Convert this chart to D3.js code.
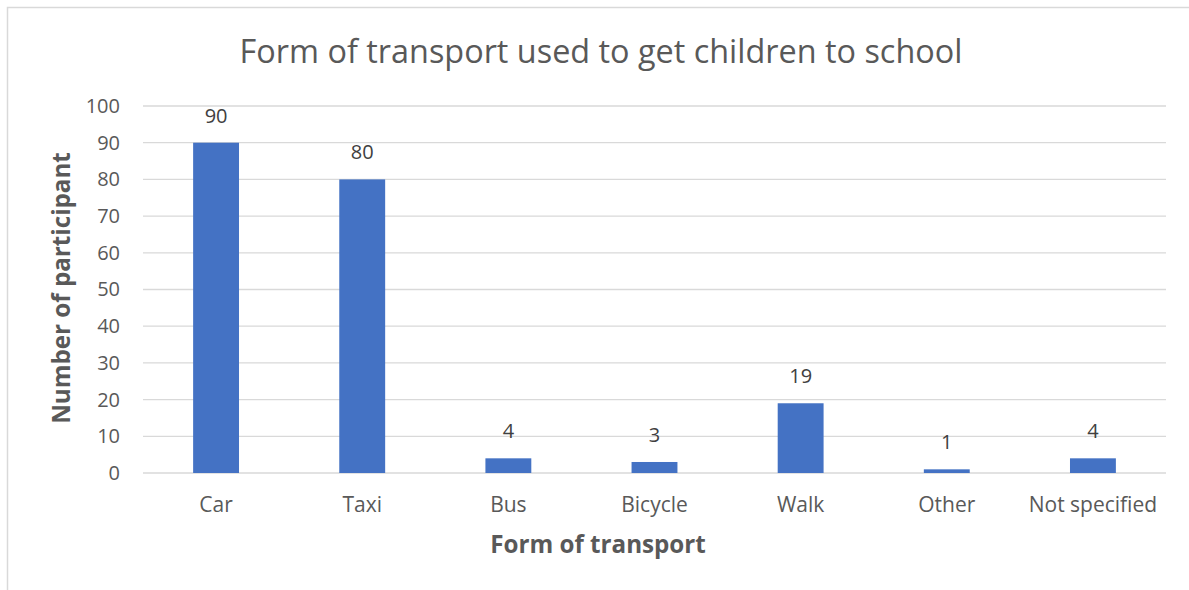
<!DOCTYPE html>
<html><head><meta charset="utf-8">
<script src="https://cdn.jsdelivr.net/npm/d3@7"></script>
<style>
body{margin:0;background:#fff;}
text{font-family:"Open Sans",sans-serif;}
</style></head><body>
<svg id="chart" width="1189" height="590"></svg>
<script>
const categories = ["Car","Taxi","Bus","Bicycle","Walk","Other","Not specified"];
const values = [90,80,4,3,19,1,4];
const yTicks = [0,10,20,30,40,50,60,70,80,90,100];
const title = "Form of transport used to get children to school";
const xTitle = "Form of transport";
const yTitle = "Number of participant";

const svg = d3.select("#chart");
const W = 1189, H = 590;
const m = {left:143, right:23, top:106, bottom:117};
const x = d3.scaleBand().domain(categories).range([m.left, W-m.right]).paddingInner(0.686).paddingOuter(0.343);
const y = d3.scaleLinear().domain([0,100]).range([H-m.bottom, m.top]);

// border
svg.append("path").attr("d",`M7.5,${H} V7.5 H${W}`).attr("fill","none").attr("stroke","#d9d9d9").attr("stroke-width",1.5);

// gridlines
svg.append("g").selectAll("line").data(yTicks).join("line")
  .attr("x1",m.left).attr("x2",W-m.right)
  .attr("y1",d=>y(d)).attr("y2",d=>y(d))
  .attr("stroke","#d9d9d9").attr("stroke-width",1.3);

// y axis
const yAxis = svg.append("g").attr("transform",`translate(${m.left},0)`)
  .call(d3.axisLeft(y).tickValues(yTicks).tickSize(0).tickPadding(23));
yAxis.select(".domain").remove();
yAxis.selectAll("text").attr("font-size",20).attr("fill","#595959").style("font-family","'Open Sans',sans-serif");

// x axis
const xAxis = svg.append("g").attr("transform",`translate(0,${y(0)})`)
  .call(d3.axisBottom(x).tickSize(0).tickPadding(24));
xAxis.select(".domain").remove();
xAxis.selectAll("text").attr("font-size",21).attr("fill","#595959").style("font-family","'Open Sans',sans-serif");

// bars
svg.append("g").selectAll("rect").data(values).join("rect")
  .attr("x",(d,i)=>x(categories[i])).attr("width",x.bandwidth())
  .attr("y",d=>y(d)).attr("height",d=>y(0)-y(d))
  .attr("fill","#4472c4");

// data labels
svg.append("g").selectAll("text").data(values).join("text")
  .attr("x",(d,i)=>x(categories[i])+x.bandwidth()/2)
  .attr("y",d=>y(d)-20)
  .attr("text-anchor","middle").attr("font-size",20).attr("fill","#404040")
  .text(d=>d);

// title
svg.append("text").attr("x",601).attr("y",63).attr("text-anchor","middle")
  .attr("font-size",32.4).attr("fill","#595959").text(title);

// axis titles
svg.append("text").attr("x",598).attr("y",553).attr("text-anchor","middle")
  .attr("font-size",24.2).attr("font-weight","bold").attr("fill","#595959").text(xTitle);
svg.append("text").attr("transform",`translate(70,288) rotate(-90)`).attr("text-anchor","middle")
  .attr("font-size",24.2).attr("font-weight","bold").attr("fill","#595959").text(yTitle);
</script>
</body></html>
